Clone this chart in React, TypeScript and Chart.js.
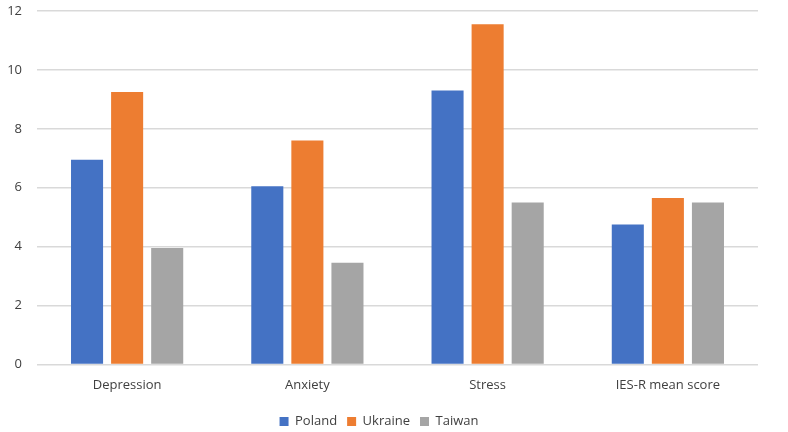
import React, { useEffect, useRef } from "react";
import { Chart, registerables } from "chart.js";

Chart.register(...registerables);

const categories = ["Depression", "Anxiety", "Stress", "IES-R mean score"];
const poland = [6.95, 6.05, 9.3, 4.75];
const ukraine = [9.25, 7.6, 11.55, 5.65];
const taiwan = [3.95, 3.45, 5.5, 5.5];
const yTicks = [0, 2, 4, 6, 8, 10, 12];

const legendShift = {
  id: "legendShift",
  afterLayout(chart: any) {
    const lg = chart.legend;
    if (lg) {
      lg.top += 6;
      lg.bottom += 6;
    }
  },
};

export default function App() {
  const ref = useRef<HTMLCanvasElement | null>(null);
  useEffect(() => {
    document.body.style.margin = "0";
    const ctx = ref.current;
    if (!ctx) return;
    const font = { family: "'Open Sans', 'Liberation Sans', sans-serif", size: 13 };
    const chart = new Chart(ctx, {
      type: "bar",
      data: {
        labels: categories,
        datasets: [
          { label: "Poland", data: poland, backgroundColor: "#4472C4" },
          { label: "Ukraine", data: ukraine, backgroundColor: "#ED7D31" },
          { label: "Taiwan", data: taiwan, backgroundColor: "#A5A5A5" },
        ],
      },
      plugins: [legendShift],
      options: {
        animation: false,
        responsive: false,
        maintainAspectRatio: false,
        datasets: { bar: { barPercentage: 0.8, categoryPercentage: 0.667 } },
        layout: { padding: { left: 0, right: 30, top: 11, bottom: 0 } },
        plugins: {
          legend: {
            position: "bottom",
            labels: {
              boxWidth: 9,
              boxHeight: 9,
              padding: 10,
              color: "#404040",
              font,
            },
          },
          tooltip: { enabled: false },
        },
        scales: {
          x: {
            grid: { display: false },
            border: { display: false },
            ticks: { color: "#404040", font, padding: 5, autoSkip: false },
            afterFit: (axis: any) => {
              axis.height += 1;
            },
          },
          y: {
            min: 0,
            max: 12,
            afterBuildTicks: (axis: any) => {
              axis.ticks = yTicks.map((v) => ({ value: v }));
            },
            afterFit: (axis: any) => {
              axis.width = 37;
              axis.paddingTop = 0;
              axis.paddingBottom = 0;
            },
            grid: { color: "#d9d9d9", lineWidth: 1.5, drawTicks: false },
            border: { display: false },
            ticks: { color: "#404040", font, padding: 15 },
          },
        },
      },
    });
    return () => chart.destroy();
  }, []);
  return (
    <div style={{ width: 788, height: 432 }}>
      <canvas ref={ref} width={788} height={432} style={{ width: 788, height: 432 }} />
    </div>
  );
}
